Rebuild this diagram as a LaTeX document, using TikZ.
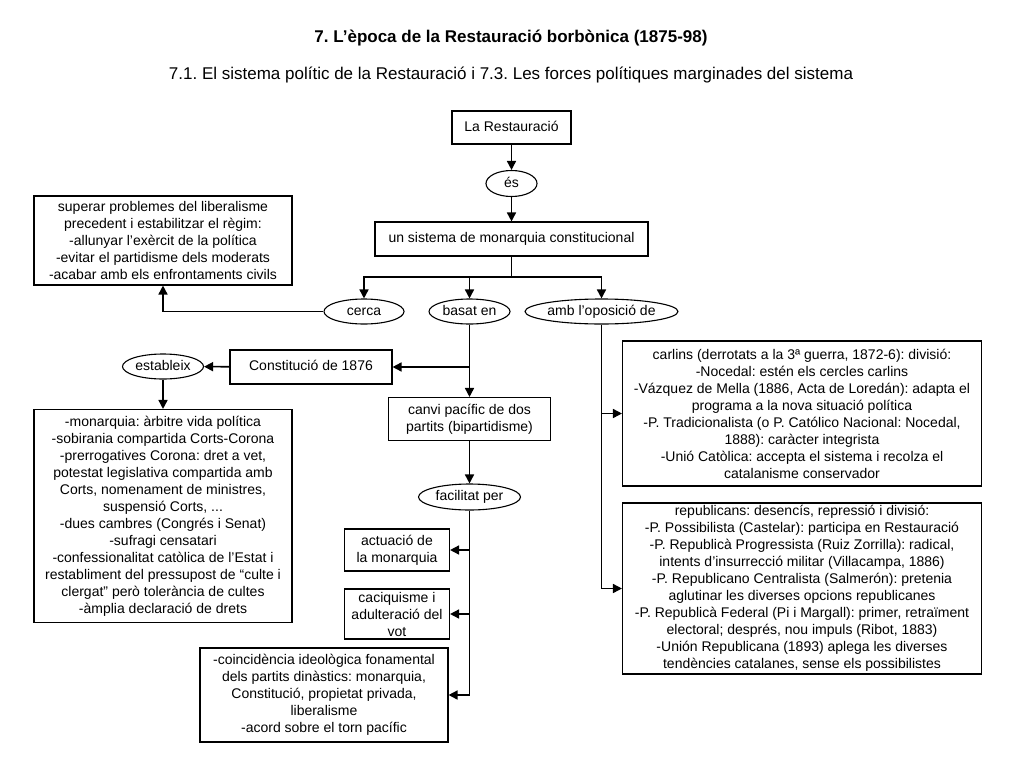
\documentclass[tikz,border=0pt]{standalone}
\usepackage{fontspec}
\setmainfont{Liberation Sans}
\usetikzlibrary{shapes.geometric, arrows.meta}

\tikzset{
  txt/.style={font=\fontsize{14}{17}\selectfont, align=center, inner sep=0pt},
  box/.style={txt, draw, line width=1.1pt},
  one/.style={text height=10pt, text depth=3pt},
  oval/.style={txt, one, draw, ellipse, line width=1.1pt},
  arr/.style={line width=1.6pt, -{Triangle[length=9pt,width=9pt]}},
  lin/.style={line width=1.6pt}
}

\begin{document}
\frenchspacing
\begin{tikzpicture}[x=1pt, y=-1pt]
  	\useasboundingbox[fill=white] (0,0) rectangle (1024,768);

  	% titles
  	\node[txt, font=\fontsize{17}{20}\selectfont\bfseries] (T1) at (511,38) {7. L’època de la Restauració borbònica (1875-98)};
  	\node[txt, font=\fontsize{17}{20}\selectfont] (T2) at (511,75) {7.1. El sistema polític de la Restauració i 7.3. Les forces polítiques marginades del sistema};

  	% central column
  	\node[box, one, minimum width=119, minimum height=33] (Rest) at (511.5,127.5) {La Restauració};
  	\node[oval, minimum width=51, minimum height=26] (Es) at (511.5,183.5) {és};
  	\node[box, one, minimum width=273, minimum height=34] (Sist) at (511.5,239) {un sistema de monarquia constitucional};

  	\node[oval, minimum width=80, minimum height=25] (Cerca) at (364,311.5) {cerca};
  	\node[oval, minimum width=81, minimum height=25] (Basat) at (469.5,311.5) {basat en};
  	\node[oval, minimum width=144, minimum height=25] (Amb) at (601.5,311.5) {amb l’oposició de};
  	\coordinate (Br) at (511.5,277);

  	\node[box, minimum width=258, minimum height=89] (Sup) at (163,240.5) {superar problemes del liberalisme\\precedent i estabilitzar el règim:\\-allunyar l’exèrcit de la política\\-evitar el partidisme dels moderats\\-acabar amb els enfrontaments civils};

  	% left column
  	\node[box, one, minimum width=162, minimum height=34] (Const) at (311,367) {Constitució de 1876};
  	\node[oval, minimum width=81, minimum height=25] (Estab) at (163,366.5) {estableix};
  	\node[box, minimum width=258, minimum height=213] (Monq) at (163,516) {-monarquia: àrbitre vida política\\-sobirania compartida Corts-Corona\\-prerrogatives Corona: dret a vet,\\potestat legislativa compartida amb\\Corts, nomenament de ministres,\\suspensió Corts, ...\\-dues cambres (Congrés i Senat)\\-sufragi censatari\\-confessionalitat catòlica de l’Estat i\\restabliment del pressupost de “culte i\\clergat” però tolerància de cultes\\-àmplia declaració de drets};

  	% bipartidisme
  	\node[box, minimum width=162, minimum height=43] (Canvi) at (469.5,419) {canvi pacífic de dos\\partits (bipartidisme)};
  	\node[oval, minimum width=102, minimum height=26] (Facil) at (469.5,497) {facilitat per};
  	\node[box, minimum width=105, minimum height=42] (Actu) at (397,550) {actuació de\\la monarquia};
  	\node[box, minimum width=105, minimum height=50] (Caci) at (397,614) {caciquisme i\\adulteració del\\vot};
  	\node[box, minimum width=248, minimum height=94] (Coinc) at (324,695) {-coincidència ideològica fonamental\\dels partits dinàstics: monarquia,\\Constitució, propietat privada,\\liberalisme\\-acord sobre el torn pacífic};

  	% oposicio
  	\node[box, minimum width=359, minimum height=145] (Carl) at (802,413.5) {carlins (derrotats a la 3ª guerra, 1872-6): divisió:\\-Nocedal: estén els cercles carlins\\-Vázquez de Mella (1886, Acta de Loredán): adapta el\\programa a la nova situació política\\-P. Tradicionalista (o P. Católico Nacional: Nocedal,\\1888): caràcter integrista\\-Unió Catòlica: accepta el sistema i recolza el\\catalanisme conservador};
  	\node[box, minimum width=359, minimum height=171] (Rep) at (802,588.5) {republicans: desencís, repressió i divisió:\\-P. Possibilista (Castelar): participa en Restauració\\-P. Republicà Progressista (Ruiz Zorrilla): radical,\\intents d’insurrecció militar (Villacampa, 1886)\\-P. Republicano Centralista (Salmerón): pretenia\\aglutinar les diverses opcions republicanes\\-P. Republicà Federal (Pi i Margall): primer, retraïment\\electoral; després, nou impuls (Ribot, 1883)\\-Unión Republicana (1893) aplega les diverses\\tendències catalanes, sense els possibilistes};

  	% connectors
  	\draw[arr] (Rest) -- (Es);
  	\draw[arr] (Es) -- (Sist);
  	\draw[lin] (Sist) -- (Br);
  	\draw[arr] (Br) -| (Cerca);
  	\draw[arr] (Br) -| (Basat);
  	\draw[arr] (Br) -| (Amb);
  	\draw[arr] (Cerca.west) -| (Sup.south);
  	\draw[arr] (Basat) -- (Canvi);
  	\draw[arr] (Basat.south |- Const.east) -- (Const.east);
  	\draw[arr] (Const) -- (Estab);
  	\draw[arr] (Estab) -- (Monq);
  	\draw[arr] (Canvi) -- (Facil);
  	\draw[arr] (Facil.south) |- (Coinc.east);
  	\draw[arr] (Facil.south |- Actu.east) -- (Actu.east);
  	\draw[arr] (Facil.south |- Caci.east) -- (Caci.east);
  	\draw[arr] (Amb.south) |- (Rep.west);
  	\draw[arr] (Amb.south |- Carl.west) -- (Carl.west);
\end{tikzpicture}
\end{document}
